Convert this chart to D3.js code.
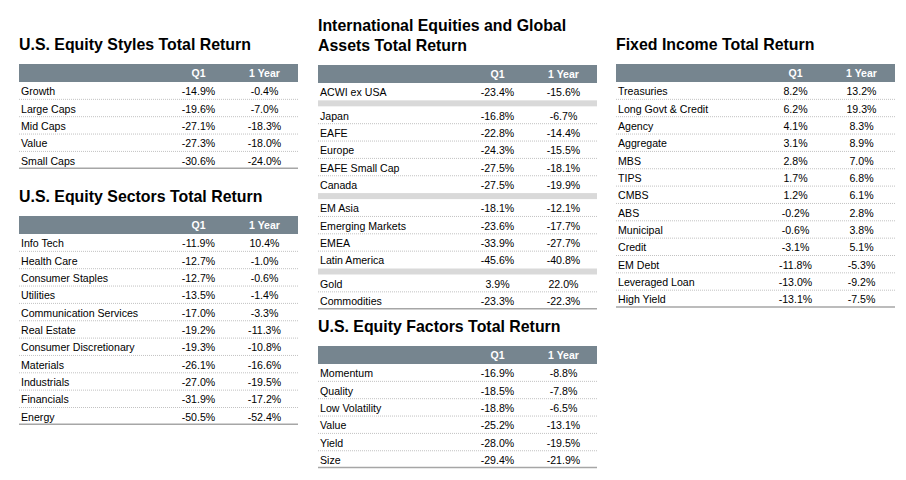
<!DOCTYPE html>
<html>
<head>
<meta charset="utf-8">
<script src="https://cdn.jsdelivr.net/npm/d3@7"></script>
<style>
  body { margin: 0; background: #fff; }
  svg { display: block; font-family: "Liberation Sans", Arial, Helvetica, sans-serif; }
</style>
</head>
<body>
<svg id="chart" width="906" height="480"></svg>
<script>
// column headers shared by every table
var columns = ["Q1", "1 Year"];

// U.S. Equity Styles
var styleNames = ["Growth", "Large Caps", "Mid Caps", "Value", "Small Caps"];
var styleQ1 = [-14.9, -19.6, -27.1, -27.3, -30.6];
var style1Y = [-0.4, -7.0, -18.3, -18.0, -24.0];

// U.S. Equity Sectors
var sectorNames = ["Info Tech", "Health Care", "Consumer Staples", "Utilities",
  "Communication Services", "Real Estate", "Consumer Discretionary", "Materials",
  "Industrials", "Financials", "Energy"];
var sectorQ1 = [-11.9, -12.7, -12.7, -13.5, -17.0, -19.2, -19.3, -26.1, -27.0, -31.9, -50.5];
var sector1Y = [10.4, -1.0, -0.6, -1.4, -3.3, -11.3, -10.8, -16.6, -19.5, -17.2, -52.4];

// International Equities and Global Assets (group = block between grey bars)
var intlNames = ["ACWI ex USA", "Japan", "EAFE", "Europe", "EAFE Small Cap", "Canada",
  "EM Asia", "Emerging Markets", "EMEA", "Latin America", "Gold", "Commodities"];
var intlGroup = [0, 1, 1, 1, 1, 1, 2, 2, 2, 2, 3, 3];
var intlQ1 = [-23.4, -16.8, -22.8, -24.3, -27.5, -27.5, -18.1, -23.6, -33.9, -45.6, 3.9, -23.3];
var intl1Y = [-15.6, -6.7, -14.4, -15.5, -18.1, -19.9, -12.1, -17.7, -27.7, -40.8, 22.0, -22.3];

// U.S. Equity Factors
var factorNames = ["Momentum", "Quality", "Low Volatility", "Value", "Yield", "Size"];
var factorQ1 = [-16.9, -18.5, -18.8, -25.2, -28.0, -29.4];
var factor1Y = [-8.8, -7.8, -6.5, -13.1, -19.5, -21.9];

// Fixed Income
var fixedNames = ["Treasuries", "Long Govt & Credit", "Agency", "Aggregate", "MBS", "TIPS",
  "CMBS", "ABS", "Municipal", "Credit", "EM Debt", "Leveraged Loan", "High Yield"];
var fixedQ1 = [8.2, 6.2, 4.1, 3.1, 2.8, 1.7, 1.2, -0.2, -0.6, -3.1, -11.8, -13.0, -13.1];
var fixed1Y = [13.2, 19.3, 8.3, 8.9, 7.0, 6.8, 6.1, 2.8, 3.8, 5.1, -5.3, -9.2, -7.5];

var fmt = function (v) { return v.toFixed(1) + "%"; };

var svg = d3.select("#chart");

var W = 279, ROW = 17.35, HEAD = 18, GAP = 6;

function drawTable(t) {
  var g = svg.append("g").attr("transform", "translate(" + t.x + "," + t.y + ")");
  var groups = t.group || t.names.map(function () { return 0; });

  // titles (one or two lines)
  g.selectAll("text.title").data(t.title).enter().append("text")
    .attr("class", "title")
    .attr("x", 0)
    .attr("y", function (d, i) { return t.titleY + i * 20; })
    .attr("font-size", 15.9)
    .attr("font-weight", "bold")
    .attr("fill", "#000")
    .text(function (d) { return d; });

  // header bar
  g.append("rect")
    .attr("x", 0).attr("y", 0)
    .attr("width", W).attr("height", HEAD)
    .attr("fill", "#76858f");

  var col = d3.scalePoint().domain(columns).range([179.5, 245.5]);

  g.selectAll("text.head").data(columns).enter().append("text")
    .attr("class", "head")
    .attr("x", function (d) { return col(d); })
    .attr("y", HEAD / 2 + 4)
    .attr("text-anchor", "middle")
    .attr("font-size", 10.5)
    .attr("font-weight", "bold")
    .attr("fill", "#fff")
    .text(function (d) { return d; });

  var rowY = d3.scaleLinear().domain([0, 1]).range([HEAD, HEAD + ROW]);
  function top(i) { return rowY(i) + groups[i] * GAP; }

  var rows = t.names.map(function (n, i) {
    return { name: n, q1: t.q1[i], y1: t.y1[i], top: top(i), group: groups[i], i: i };
  });

  // grey bars between groups
  var breaks = rows.filter(function (r, i) { return i > 0 && r.group !== rows[i - 1].group; });
  g.selectAll("rect.gap").data(breaks).enter().append("rect")
    .attr("class", "gap")
    .attr("x", 0).attr("y", function (r) { return r.top - GAP; })
    .attr("width", W).attr("height", GAP)
    .attr("fill", "#d9d9d9");

  // dotted separators between rows in the same group
  var seps = rows.filter(function (r, i) { return i > 0 && r.group === rows[i - 1].group; });
  g.selectAll("line.sep").data(seps).enter().append("line")
    .attr("class", "sep")
    .attr("x1", 0).attr("x2", W)
    .attr("y1", function (r) { return r.top; })
    .attr("y2", function (r) { return r.top; })
    .attr("stroke", "#c2c2c2")
    .attr("stroke-width", 1)
    .attr("stroke-dasharray", "1,1");

  var rg = g.selectAll("g.row").data(rows).enter().append("g")
    .attr("class", "row")
    .attr("transform", function (r) { return "translate(0," + (r.top + ROW / 2 + 4.5) + ")"; })
    .attr("font-size", 10.6)
    .attr("fill", "#000");

  rg.append("text").attr("x", 2).text(function (r) { return r.name; });
  rg.append("text").attr("x", col("Q1")).attr("text-anchor", "middle").text(function (r) { return fmt(r.q1); });
  rg.append("text").attr("x", col("1 Year")).attr("text-anchor", "middle").text(function (r) { return fmt(r.y1); });

  // closing rule
  var last = rows[rows.length - 1];
  g.append("line")
    .attr("x1", 0).attr("x2", W)
    .attr("y1", last.top + ROW - 0.5).attr("y2", last.top + ROW - 0.5)
    .attr("stroke", "#a6a6a6")
    .attr("stroke-width", 1.5);
}

drawTable({ x: 19, y: 64, titleY: -14.5, title: ["U.S. Equity Styles Total Return"],
  names: styleNames, q1: styleQ1, y1: style1Y });
drawTable({ x: 19, y: 216, titleY: -14.5, title: ["U.S. Equity Sectors Total Return"],
  names: sectorNames, q1: sectorQ1, y1: sector1Y });
drawTable({ x: 318, y: 65, titleY: -34.5, title: ["International Equities and Global", "Assets Total Return"],
  names: intlNames, q1: intlQ1, y1: intl1Y, group: intlGroup });
drawTable({ x: 318, y: 346, titleY: -14.5, title: ["U.S. Equity Factors Total Return"],
  names: factorNames, q1: factorQ1, y1: factor1Y });
drawTable({ x: 616, y: 64, titleY: -14.5, title: ["Fixed Income Total Return"],
  names: fixedNames, q1: fixedQ1, y1: fixed1Y });
</script>
</body>
</html>
